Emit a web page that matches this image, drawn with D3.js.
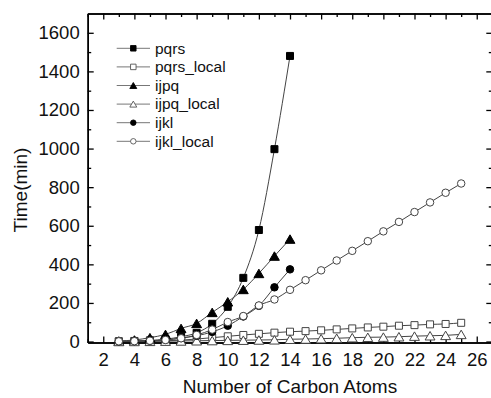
<!DOCTYPE html>
<html><head><meta charset="utf-8">
<script src="https://cdn.jsdelivr.net/npm/d3@7"></script>
<style>body{margin:0;background:#fff}svg{display:block}text{font-family:"Liberation Sans",Arial,sans-serif}</style>
</head><body>
<script>
// ---- data ----
const xShort = [3,4,5,6,7,8,9,10,11,12,13,14];
const xLong = [3,4,5,6,7,8,9,10,11,12,13,14,15,16,17,18,19,20,21,22,23,24,25];
const pqrs = [1,3,6,12,25,45,92,180,330,578,997,1480];
const pqrsLocal = [0.5,1,2,4,7,13,20,27,34,40,46,51,54,58,63,68,73,77,82,85,89,91,97];
const ijpq = [3,8,20,37,68,94,151,206,270,353,443,531];
const ijpqLocal = [0.3,0.5,1,2,3,4,5,6,7,8,9,12,13,15,17,20,22,23,25,28,30,32,37];
const ijkl = [1,2,4,9,18,30,50,82,130,185,281,374];
const ijklLocal = [1,2,4,8,17,34,62,101,132,187,218,268,318,369,420,470,520,571,620,671,721,771,819];
const seriesNames = ["pqrs","pqrs_local","ijpq","ijpq_local","ijkl","ijkl_local"];
const xTickLabels = [2,4,6,8,10,12,14,16,18,20,22,24,26];
const yTickLabels = [0,200,400,600,800,1000,1200,1400,1600];

const series = [
  {name:seriesNames[0], xs:xShort, ys:pqrs, shape:"square", filled:true},
  {name:seriesNames[1], xs:xLong, ys:pqrsLocal, shape:"square", filled:false},
  {name:seriesNames[2], xs:xShort, ys:ijpq, shape:"triangle", filled:true},
  {name:seriesNames[3], xs:xLong, ys:ijpqLocal, shape:"triangle", filled:false},
  {name:seriesNames[4], xs:xShort, ys:ijkl, shape:"circle", filled:true},
  {name:seriesNames[5], xs:xLong, ys:ijklLocal, shape:"circle", filled:false}
];

const W = 491, H = 398;
const svg = d3.select("body").append("svg").attr("width",W).attr("height",H);
const x = d3.scaleLinear().domain([1,27]).range([87.7,492.3]);
const y = d3.scaleLinear().domain([-5,1700]).range([342.5,13.5]);

function shapePath(shape, s){
  const h = s/2;
  if(shape==="square") return `M${-h},${-h}H${h}V${h}H${-h}Z`;
  if(shape==="triangle"){ const w = s*0.58; return `M0,${-h}L${w},${h}L${-w},${h}Z`; }
  return d3.arc()({innerRadius:0,outerRadius:h,startAngle:0,endAngle:2*Math.PI});
}

// axes
const xMinor = d3.range(1,28,2);
const yMinor = d3.range(100,1700,200);
const gAx = svg.append("g");
function addAxis(axisFn, scale, vals, size, tf){
  const a = axisFn(scale).tickValues(vals).tickSize(size).tickSizeOuter(0).tickFormat("");
  gAx.append("g").attr("transform",tf).call(a);
}
const bottomTf = `translate(0,${y.range()[0]})`;
const topTf = `translate(0,${y.range()[1]})`;
const leftTf = `translate(${x.range()[0]},0)`;
const rightTf = `translate(${x.range()[1]},0)`;

let b = d3.axisBottom(x).tickValues(xTickLabels).tickSize(-6).tickSizeOuter(0).tickPadding(10.5).tickFormat(d3.format("d"));
let gb = gAx.append("g").attr("transform",bottomTf).call(b);
gb.selectAll("text").attr("font-size",18.5).attr("fill","#111");
addAxis(d3.axisBottom, x, xMinor, -3.5, bottomTf);
addAxis(d3.axisTop, x, xTickLabels, -6, topTf);
addAxis(d3.axisTop, x, xMinor, -3.5, topTf);
let l = d3.axisLeft(y).tickValues(yTickLabels).tickSize(-6).tickSizeOuter(0).tickPadding(8).tickFormat(d3.format("d"));
let gl = gAx.append("g").attr("transform",leftTf).call(l);
gl.selectAll("text").attr("font-size",18.5).attr("fill","#111");
addAxis(d3.axisLeft, y, yMinor, -3.5, leftTf);
addAxis(d3.axisRight, y, yTickLabels, -6, rightTf);
addAxis(d3.axisRight, y, yMinor, -3.5, rightTf);
gAx.selectAll("path.domain").attr("stroke","#000").attr("stroke-width",1.5);
gAx.selectAll(".tick line").attr("stroke","#000").attr("stroke-width",1.3);

// titles
svg.append("text").attr("x",290).attr("y",393).attr("text-anchor","middle")
  .attr("font-size",19).attr("fill","#111").text("Number of Carbon Atoms");
svg.append("text").attr("transform",`translate(27,190) rotate(-90)`).attr("text-anchor","middle")
  .attr("font-size",19).attr("fill","#111").text("Time(min)");

// series
const gS = svg.append("g");
const line = d3.line().curve(d3.curveMonotoneX);
series.forEach(s=>{
  const pts = s.xs.map((xv,i)=>[x(xv),y(s.ys[i])]);
  gS.append("path").attr("d",line(pts)).attr("fill","none").attr("stroke","#444").attr("stroke-width",1);
});
series.forEach(s=>{
  const size = s.shape==="circle"?7.5:(s.shape==="triangle"?8.5:7);
  gS.selectAll(null).data(s.xs.map((xv,i)=>[xv,s.ys[i]])).enter().append("path")
    .attr("transform",d=>`translate(${x(d[0])},${y(d[1])})`)
    .attr("d",shapePath(s.shape,size))
    .attr("fill",s.filled?"#000":"#fff")
    .attr("stroke",s.filled?"#000":"#444").attr("stroke-width",1);
});

// legend
const lg = svg.append("g");
series.forEach((s,i)=>{
  const cy = 48.3 + i*18.6;
  lg.append("line").attr("x1",116.7).attr("x2",150).attr("y1",cy).attr("y2",cy).attr("stroke","#777").attr("stroke-width",1);
  lg.append("path").attr("transform",`translate(133.3,${cy})`).attr("d",shapePath(s.shape,s.shape==="triangle"?6:5.5))
    .attr("fill",s.filled?"#000":"#fff").attr("stroke",s.filled?"#000":"#555").attr("stroke-width",0.9);
  lg.append("text").attr("x",155).attr("y",cy+5.3).attr("font-size",15.5).attr("fill","#111").text(s.name);
});
</script>
</body></html>
